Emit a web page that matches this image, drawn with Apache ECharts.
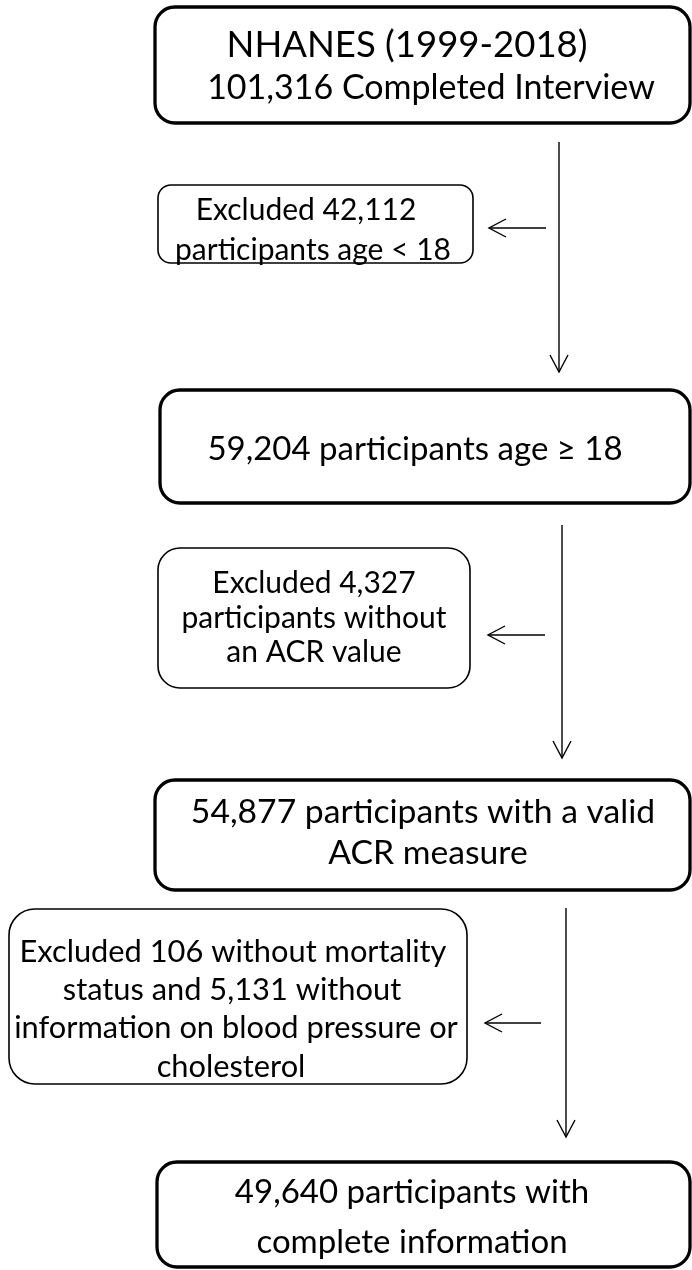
<!DOCTYPE html>
<html><head><meta charset="utf-8">
<script src="https://cdn.jsdelivr.net/npm/echarts@6/dist/echarts.min.js"></script>
<style>html,body{margin:0;padding:0;background:#fff}#c{width:692px;height:1270px}</style>
</head><body><div id="c"></div>
<script>
// ---- content (flow steps) ----
const mainSteps = [
  ["NHANES (1999-2018)", "101,316 Completed Interview"],
  ["59,204 participants age \u2265 18"],
  ["54,877 participants with a valid", "ACR measure"],
  ["49,640 participants with", "complete information"]
];
const exclusionSteps = [
  ["Excluded 42,112", "participants age < 18"],
  ["Excluded 4,327", "participants without", "an ACR value"],
  ["Excluded 106 without mortality", "status and 5,131 without", "information on blood pressure or", "cholesterol"]
];

// ---- layout ----
const FONT = 'Lato, "Open Sans", sans-serif';
const mainRects = [
  {x:155, y:7,    w:535, h:116, r:20},
  {x:160, y:390,  w:530, h:113, r:20},
  {x:155, y:780,  w:535, h:110, r:20},
  {x:157, y:1162, w:533, h:105, r:20}
];
const mainLinePos = [
  [{cx:407, by:57, s:36.5}, {cx:431, by:99, s:34}],
  [{cx:415, by:460, s:33}],
  [{cx:423, by:823, s:33.7}, {cx:428, by:864, s:33.7}],
  [{cx:412, by:1203, s:33}, {cx:412, by:1253, s:33}]
];
const exclRects = [
  {x:158, y:185, w:315, h:78,  r:13},
  {x:158, y:548, w:312, h:140, r:22},
  {x:9,   y:909, w:458, h:175, r:26}
];
const exclLinePos = [
  [{cx:306, by:220}, {cx:313, by:260}],
  [{cx:314, by:593}, {cx:314, by:628}, {cx:314, by:662}],
  [{cx:233, by:962}, {cx:232, by:1000}, {cx:236, by:1038}, {cx:231, by:1077}]
];
const exclSizes = [30, 30, 30.8];
const downArrows = [
  {x:559, y1:142, y2:372},
  {x:562, y1:525, y2:758},
  {x:566, y1:908, y2:1137}
];
const sideArrows = [
  {y:228,  x1:546, x2:489},
  {y:635,  x1:545, x2:488},
  {y:1023, x1:541, x2:485}
];

const elements = [];
function textEl(str, cx, by, size) {
  elements.push({
    type:'text', x:cx, y:by - size*0.32, z:10,
    style:{text:str, font: size + 'px ' + FONT, fill:'#000', align:'center', verticalAlign:'middle'}
  });
}
mainRects.forEach((b,i)=>{
  elements.push({type:'rect', shape:{x:b.x,y:b.y,width:b.w,height:b.h,r:b.r},
    style:{fill:'#fff', stroke:'#000', lineWidth:3.3}});
  mainSteps[i].forEach((t,j)=>{ const p = mainLinePos[i][j]; textEl(t, p.cx, p.by, p.s); });
});
exclRects.forEach((b,i)=>{
  elements.push({type:'rect', shape:{x:b.x,y:b.y,width:b.w,height:b.h,r:b.r},
    style:{fill:'#fff', stroke:'#000', lineWidth:1.6}});
  exclusionSteps[i].forEach((t,j)=>{ const p = exclLinePos[i][j]; textEl(t, p.cx, p.by, exclSizes[i]); });
});
const AH = 17, AW = 9;
downArrows.forEach(a=>{
  elements.push({type:'line', shape:{x1:a.x,y1:a.y1,x2:a.x,y2:a.y2}, style:{stroke:'#000', lineWidth:1.4}});
  elements.push({type:'polyline', shape:{points:[[a.x-AW,a.y2-AH],[a.x,a.y2],[a.x+AW,a.y2-AH]]}, style:{stroke:'#000', lineWidth:1.4, fill:null}});
});
sideArrows.forEach(a=>{
  elements.push({type:'line', shape:{x1:a.x1,y1:a.y,x2:a.x2,y2:a.y}, style:{stroke:'#000', lineWidth:1.4}});
  elements.push({type:'polyline', shape:{points:[[a.x2+AH,a.y-AW],[a.x2,a.y],[a.x2+AH,a.y+AW]]}, style:{stroke:'#000', lineWidth:1.4, fill:null}});
});

const chart = echarts.init(document.getElementById('c'), null, {renderer:'canvas'});
chart.setOption({
  backgroundColor:'#fff',
  animation:false,
  graphic:{elements: elements}
});
</script>
</body></html>
